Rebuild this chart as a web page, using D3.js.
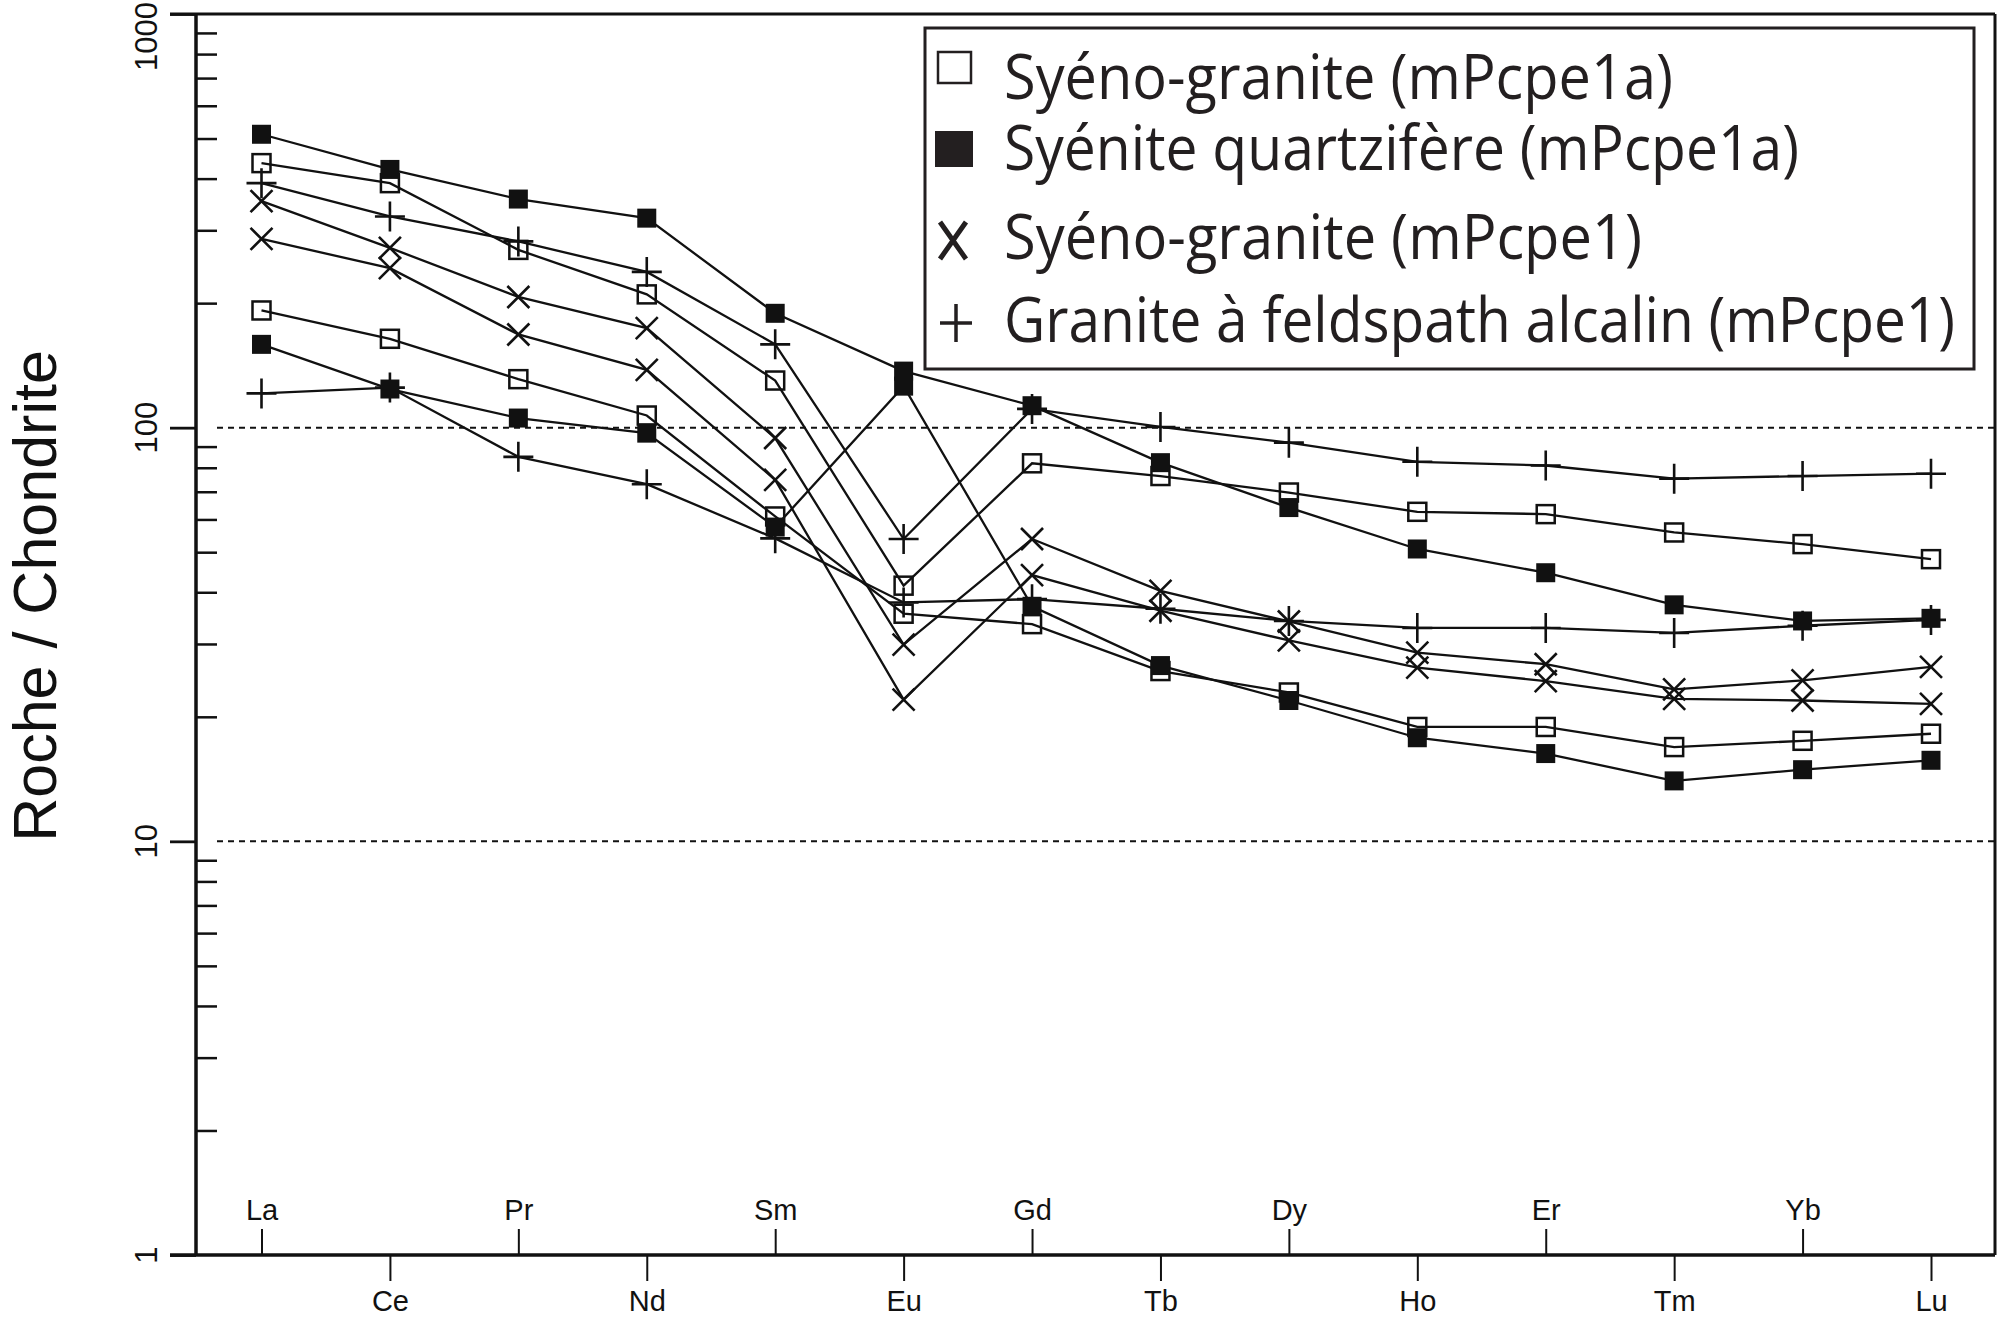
<!DOCTYPE html>
<html>
<head>
<meta charset="utf-8">
<script src="https://cdn.jsdelivr.net/npm/d3@7/dist/d3.min.js"></script>
<style>
    body { margin: 0; background: #fff; }
</style>
</head>
<body>
<div id="spectre"></div>
<script>
// Terres rares, dans l'ordre du diagramme
const elements = ["La", "Ce", "Pr", "Nd", "Sm", "Eu", "Gd", "Tb", "Dy", "Ho", "Er", "Tm", "Yb", "Lu"];

// Syéno-granite (mPcpe1a) - carrés vides
const syenoGranite1a_1 = [436, 390, 269, 210, 130, 41.5, 82, 76.4, 69.7, 62.6, 61.8, 55.8, 52.3, 48.1];
const syenoGranite1a_2 = [192, 164, 131, 107, 61, 35.5, 33.5, 25.8, 22.9, 18.9, 18.9, 16.9, 17.5, 18.2];

// Syénite quartzifère (mPcpe1a) - carrés pleins
const syeniteQuartz_1 = [512, 421, 357, 321, 189, 137, 113, 82.3, 64.1, 50.9, 44.6, 37.3, 34.1, 34.6];
const syeniteQuartz_2 = [159, 124, 105.5, 97, 57.5, 126, 37, 26.6, 21.9, 17.8, 16.3, 14.0, 14.9, 15.7];

// Syéno-granite (mPcpe1) - croix x
const syenoGranite1_1 = [353, 272, 207, 174, 94.4, 29.9, 53.8, 40.3, 34, 28.6, 26.8, 23.3, 24.5, 26.4];
const syenoGranite1_2 = [286, 243, 168, 138, 74.8, 22, 44, 36.1, 30.6, 26.3, 24.4, 22.1, 21.9, 21.5];

// Granite à feldspath alcalin (mPcpe1) - croix +
const graniteAlcalin_1 = [390, 324, 282, 238, 159, 53.8, 111, 100.4, 92, 82.7, 81, 75.3, 76.4, 77.4];
const graniteAlcalin_2 = [121, 125, 85, 73, 54, 37.8, 38.5, 36.5, 34.1, 32.8, 32.8, 31.9, 33.2, 34.3];

const yTicks = [1, 10, 100, 1000];
const yGrid = [10, 100];
const yTitle = "Roche / Chondrite";
const legendLabels = [
    "Syéno-granite (mPcpe1a)",
    "Syénite quartzifère (mPcpe1a)",
    "Syéno-granite (mPcpe1)",
    "Granite à feldspath alcalin (mPcpe1)"
];

const series = [
    { values: syenoGranite1a_1, marker: "open" },
    { values: syenoGranite1a_2, marker: "open" },
    { values: syenoGranite1_1, marker: "cross" },
    { values: syenoGranite1_2, marker: "cross" },
    { values: graniteAlcalin_1, marker: "plus" },
    { values: graniteAlcalin_2, marker: "plus" },
    { values: syeniteQuartz_1, marker: "filled" },
    { values: syeniteQuartz_2, marker: "filled" }
];

const width = 1999, height = 1321;
const plot = { left: 196, right: 1995, top: 14, bottom: 1255 };
const ink = "#111";
const axisFont = "'Liberation Sans', Arial, sans-serif";
const legendFont = "'Open Sans', 'Noto Sans', sans-serif";

const svg = d3.select("#spectre")
    .append("svg")
    .attr("width", width)
    .attr("height", height);

const x = d3.scalePoint()
    .domain(elements)
    .range([261.5, 1931]);

const y = d3.scaleLog()
    .domain([1, 1000])
    .range([plot.bottom, plot.top]);

// lignes pointillées a 10 et 100
svg.append("g")
    .selectAll("line")
    .data(yGrid)
    .join("line")
    .attr("x1", plot.left + 21)
    .attr("x2", plot.right)
    .attr("y1", d => y(d))
    .attr("y2", d => y(d))
    .attr("stroke", ink)
    .attr("stroke-width", 2)
    .attr("stroke-dasharray", "6,5");

// axe Y : graduations majeures vers l'extérieur
const yMajor = svg.append("g")
    .attr("transform", `translate(${plot.left},0)`)
    .call(d3.axisLeft(y).tickValues(yTicks).tickSize(26).tickFormat(""));
yMajor.select(".domain").remove();
yMajor.selectAll("line").attr("stroke", ink).attr("stroke-width", 2.8);

// graduations mineures vers l'intérieur
const minorTicks = [];
yTicks.slice(0, -1).forEach(t => {
    for (let k = 2; k <= 9; k++) minorTicks.push(t * k);
});
const yMinor = svg.append("g")
    .attr("transform", `translate(${plot.left},0)`)
    .call(d3.axisRight(y).tickValues(minorTicks).tickSize(21).tickFormat(""));
yMinor.select(".domain").remove();
yMinor.selectAll("line").attr("stroke", ink).attr("stroke-width", 2.5);

// étiquettes Y tournées
svg.append("g")
    .selectAll("text")
    .data(yTicks)
    .join("text")
    .attr("transform", d => `translate(157, ${d === 1000 ? 2 : y(d)}) rotate(-90)`)
    .attr("text-anchor", d => d === 1000 ? "end" : "middle")
    .style("font-family", axisFont)
    .style("font-size", "31px")
    .attr("fill", ink)
    .text(d => d);

svg.append("text")
    .attr("transform", "translate(56, 596) rotate(-90)")
    .attr("text-anchor", "middle")
    .style("font-family", axisFont)
    .style("font-size", "61px")
    .attr("fill", ink)
    .text(yTitle);

// axe X : une étiquette sur deux au-dessus, les autres en dessous
const upper = elements.filter((e, i) => i % 2 === 0);
const lower = elements.filter((e, i) => i % 2 === 1);

const xTop = svg.append("g")
    .attr("transform", `translate(0,${plot.bottom})`)
    .call(d3.axisTop(x).tickValues(upper).tickSize(26).tickPadding(9));
const xBottom = svg.append("g")
    .attr("transform", `translate(0,${plot.bottom})`)
    .call(d3.axisBottom(x).tickValues(lower).tickSize(26).tickPadding(9));

[xTop, xBottom].forEach(g => {
    g.select(".domain").remove();
    g.selectAll("line").attr("stroke", ink).attr("stroke-width", 2);
    g.selectAll("text")
        .style("font-family", axisFont)
        .style("font-size", "29px")
        .attr("fill", ink);
});

// cadre
const frame = svg.append("g").attr("stroke", ink).attr("fill", "none");
frame.append("line").attr("x1", 170).attr("x2", plot.right).attr("y1", plot.top).attr("y2", plot.top).attr("stroke-width", 3);
frame.append("line").attr("x1", plot.right).attr("x2", plot.right).attr("y1", plot.top).attr("y2", plot.bottom).attr("stroke-width", 3);
frame.append("line").attr("x1", 170).attr("x2", plot.right).attr("y1", plot.bottom).attr("y2", plot.bottom).attr("stroke-width", 3.5);
frame.append("line").attr("x1", plot.left).attr("x2", plot.left).attr("y1", plot.top).attr("y2", plot.bottom).attr("stroke-width", 3.5);

// spectres
const line = d3.line()
    .x((d, i) => x(elements[i]))
    .y(d => y(d));

svg.append("g")
    .selectAll("path")
    .data(series)
    .join("path")
    .attr("d", s => line(s.values))
    .attr("fill", "none")
    .attr("stroke", ink)
    .attr("stroke-width", 2.3);

function drawMarker(g, type) {
    if (type === "open") {
        g.append("rect").attr("x", -9).attr("y", -9).attr("width", 18).attr("height", 18)
            .attr("fill", "none").attr("stroke", ink).attr("stroke-width", 2.5);
    } else if (type === "filled") {
        g.append("rect").attr("x", -9.5).attr("y", -9.5).attr("width", 19).attr("height", 19)
            .attr("fill", ink);
    } else if (type === "cross") {
        g.append("path").attr("d", "M-11,-11L11,11M-11,11L11,-11")
            .attr("stroke", ink).attr("stroke-width", 2.6);
    } else {
        g.append("path").attr("d", "M-15,0H15M0,-15V15")
            .attr("stroke", ink).attr("stroke-width", 2.6);
    }
}

series.forEach(s => {
    svg.append("g")
        .selectAll("g")
        .data(s.values)
        .join("g")
        .attr("transform", (d, i) => `translate(${x(elements[i])},${y(d)})`)
        .each(function () { drawMarker(d3.select(this), s.marker); });
});

// légende
const legend = svg.append("g");
legend.append("rect")
    .attr("x", 925).attr("y", 28)
    .attr("width", 1049).attr("height", 341)
    .attr("fill", "#fff")
    .attr("stroke", "#231f20")
    .attr("stroke-width", 3);

legend.append("rect").attr("x", 938).attr("y", 52).attr("width", 33).attr("height", 31)
    .attr("fill", "none").attr("stroke", "#231f20").attr("stroke-width", 2.5);
legend.append("rect").attr("x", 935).attr("y", 131).attr("width", 38).attr("height", 36)
    .attr("fill", "#231f20");
legend.append("path").attr("d", "M940,222L966,259M966,222L940,259")
    .attr("stroke", "#231f20").attr("stroke-width", 5);
legend.append("path").attr("d", "M940,323H972M956,304V342")
    .attr("stroke", "#231f20").attr("stroke-width", 3.5);

const legendRows = [
    { baseline: 99, length: 669 },
    { baseline: 170, length: 795 },
    { baseline: 259, length: 638 },
    { baseline: 342, length: 951 }
];

legend.selectAll("text")
    .data(legendLabels)
    .join("text")
    .attr("x", 1004)
    .attr("y", (d, i) => legendRows[i].baseline)
    .attr("textLength", (d, i) => legendRows[i].length)
    .attr("lengthAdjust", "spacingAndGlyphs")
    .style("font-family", legendFont)
    .style("font-size", "62px")
    .attr("fill", "#231f20")
    .text(d => d);
</script>
</body>
</html>
